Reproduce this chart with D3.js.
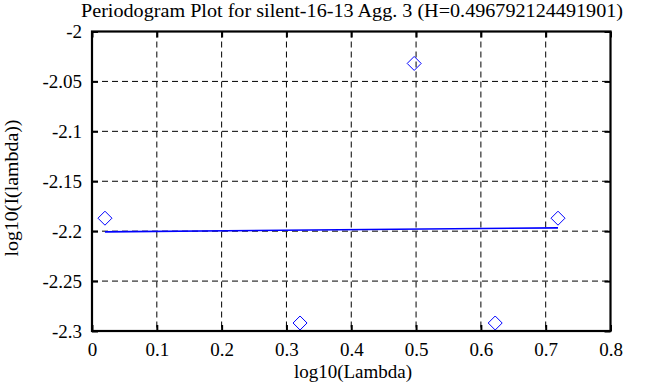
<!DOCTYPE html>
<html><head><meta charset="utf-8">
<script src="https://cdn.jsdelivr.net/npm/d3@7"></script>
<style>body{margin:0;background:#fff}svg{display:block}</style>
</head><body>
<script>
const title = "Periodogram Plot for silent-16-13 Agg. 3 (H=0.496792124491901)";
const xLabel = "log10(Lambda)";
const yLabel = "log10(I(lambda))";
const pointsX = [0.0200, 0.3210, 0.4971, 0.6221, 0.7190];
const pointsY = [-2.187, -2.292, -2.032, -2.292, -2.187];
const fitX = [0.0200, 0.7190];
const fitY = [-2.2007, -2.1967];
const xTicks = [0, 0.1, 0.2, 0.3, 0.4, 0.5, 0.6, 0.7, 0.8];
const yTicks = [-2, -2.05, -2.1, -2.15, -2.2, -2.25, -2.3];

const FONT = "'Liberation Serif', 'Times New Roman', serif";
const W = 668, H = 387;
const L = 92, R = 610.5, T = 31.5, B = 331;
const svg = d3.select("body").append("svg").attr("width", W).attr("height", H);
const x = d3.scaleLinear().domain([0, 0.8]).range([L, R]);
const y = d3.scaleLinear().domain([-2.3, -2]).range([B, T]);

// grid
svg.append("g").selectAll("line").data(xTicks.slice(1, -1)).join("line")
  .attr("x1", d => x(d)).attr("x2", d => x(d)).attr("y1", T).attr("y2", B)
  .attr("stroke", "#000").attr("stroke-width", 1).attr("stroke-dasharray", "6,4");
svg.append("g").selectAll("line").data(yTicks.slice(1, -1)).join("line")
  .attr("y1", d => y(d)).attr("y2", d => y(d)).attr("x1", L).attr("x2", R)
  .attr("stroke", "#000").attr("stroke-width", 1).attr("stroke-dasharray", "6,4");

// axes using d3 axes
const fmt = d => String(+d.toFixed(2));
const xa = svg.append("g").attr("transform", `translate(0,${B})`)
  .call(d3.axisBottom(x).tickValues(xTicks).tickFormat(fmt).tickSize(-6).tickPadding(8));
const ya = svg.append("g").attr("transform", `translate(${L},0)`)
  .call(d3.axisLeft(y).tickValues(yTicks).tickFormat(fmt).tickSize(-6).tickPadding(10));
const xt = svg.append("g").attr("transform", `translate(0,${T})`)
  .call(d3.axisTop(x).tickValues(xTicks).tickFormat("").tickSize(-6));
const yr = svg.append("g").attr("transform", `translate(${R},0)`)
  .call(d3.axisRight(y).tickValues(yTicks).tickFormat("").tickSize(-6));
[xa, ya, xt, yr].forEach(g => {
  g.select(".domain").remove();
  g.selectAll(".tick line").attr("stroke", "#000").attr("stroke-width", 2);
  g.selectAll("text").style("font-size", "19px").style("font-family", FONT).attr("fill", "#000");
});
xa.selectAll("text").attr("dy", null).attr("y", 25);
svg.append("rect").attr("x", L).attr("y", T).attr("width", R - L).attr("height", B - T)
  .attr("fill", "none").attr("stroke", "#000").attr("stroke-width", 2.2);

// fit line
svg.append("path").datum(fitX.map((d, i) => [d, fitY[i]]))
  .attr("d", d3.line().x(d => x(d[0])).y(d => y(d[1])))
  .attr("stroke", "#0000ff").attr("stroke-width", 1.6).attr("fill", "none");

// diamonds
svg.append("g").selectAll("path").data(pointsX.map((d, i) => [d, pointsY[i]])).join("path")
  .attr("transform", d => `translate(${x(d[0])},${y(d[1])})`)
  .attr("d", "M0,-7L7,0L0,7L-7,0Z")
  .attr("fill", "none").attr("stroke", "#0000ff").attr("stroke-width", 1);

// labels
const txt = (sel) => sel.style("font-family", FONT).attr("fill", "#000");
svg.append("text").attr("x", 352).attr("y", 17).attr("text-anchor", "middle")
  .style("font-size", "19px").attr("textLength", 542).attr("lengthAdjust", "spacingAndGlyphs")
  .call(txt).text(title);
svg.append("text").attr("x", 353).attr("y", 378).attr("text-anchor", "middle")
  .style("font-size", "19px").call(txt).text(xLabel);
svg.append("text").attr("transform", `translate(18,188) rotate(-90)`).attr("text-anchor", "middle")
  .style("font-size", "19px").attr("textLength", 137).attr("lengthAdjust", "spacingAndGlyphs")
  .call(txt).text(yLabel);
</script>
</body></html>
